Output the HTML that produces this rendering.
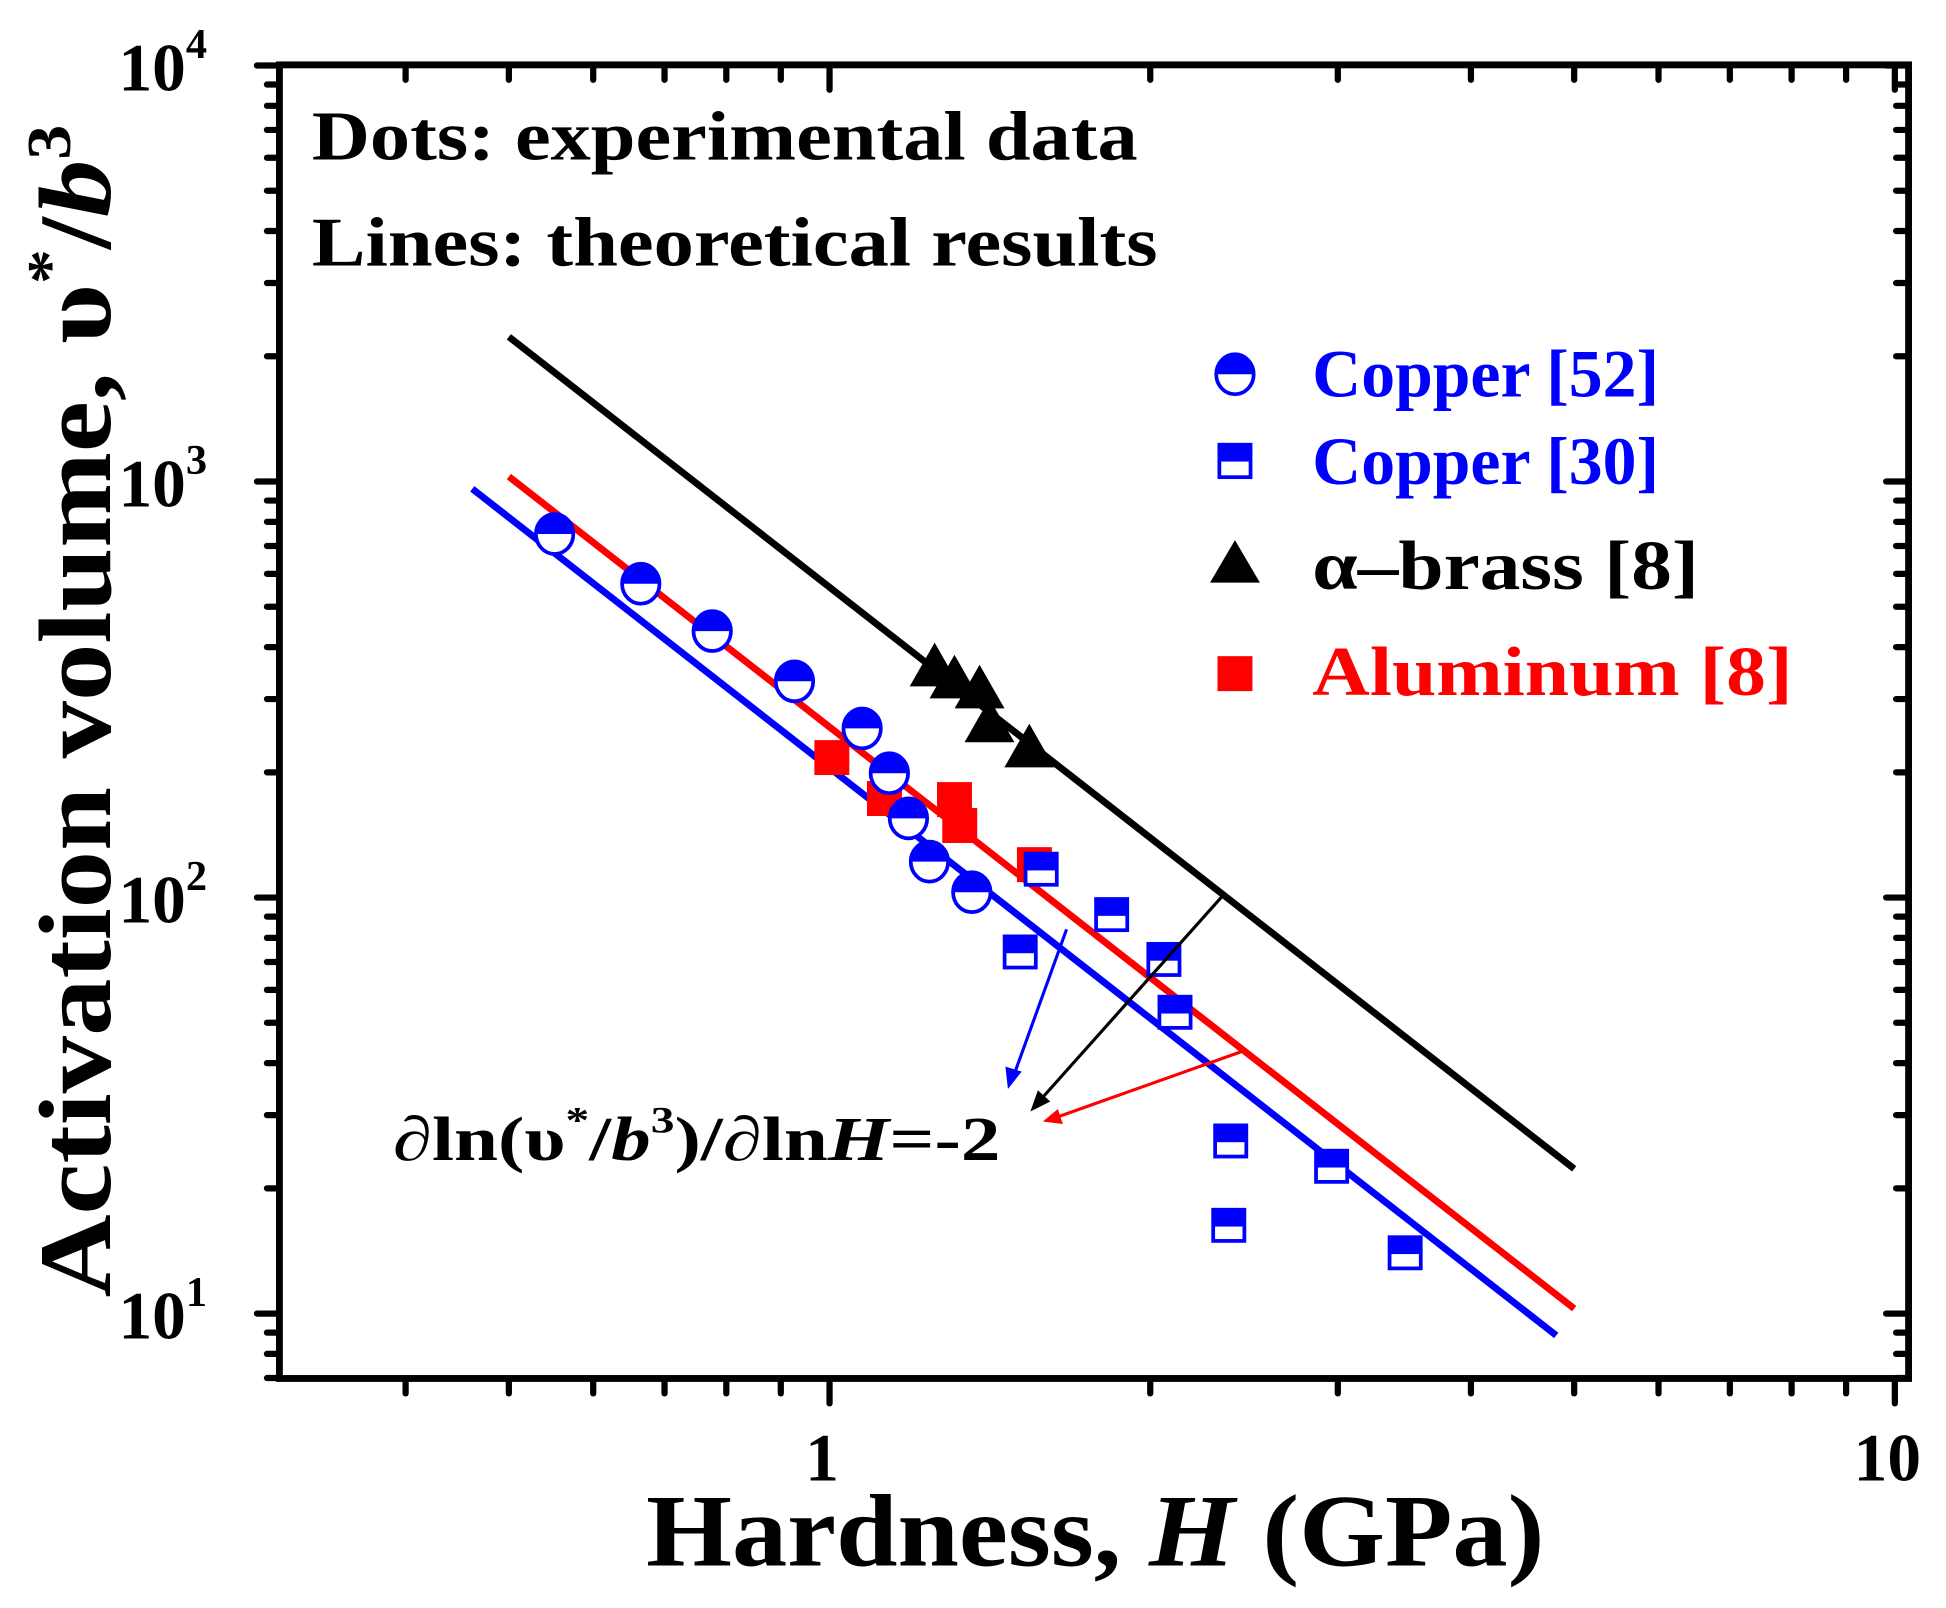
<!DOCTYPE html>
<html><head><meta charset="utf-8"><style>
html,body{margin:0;padding:0;background:#fff;}
svg{display:block;font-family:"Liberation Serif",serif;}
</style></head><body>
<svg id="chart" width="1946" height="1608" viewBox="0 0 1560 1289" preserveAspectRatio="none" xmlns="http://www.w3.org/2000/svg">
<g id="axes"></g>
<g id="lines"></g>
<g id="marks"></g>
<g>
<line x1="855" y1="745" x2="812" y2="864" stroke="#0000ff" stroke-width="2.5"/>
<polygon points="808,873 806,855 819,859" fill="#0000ff"/>
<line x1="982" y1="716" x2="832" y2="884" stroke="#000" stroke-width="2.5"/>
<polygon points="826,891 832,874 842,883" fill="#000"/>
<line x1="998" y1="842" x2="846" y2="896" stroke="#ff0000" stroke-width="2.5"/>
<polygon points="836,899 848,889 852,901" fill="#ff0000"/>
<text x="315" y="930" font-size="50" font-weight="bold" textLength="487" lengthAdjust="spacingAndGlyphs">∂ln(υ<tspan font-size="30" dy="-22">*</tspan><tspan dy="22">/</tspan><tspan font-style="italic">b</tspan><tspan font-size="30" dy="-22">3</tspan><tspan dy="22">)/∂ln</tspan><tspan font-style="italic">H</tspan>=-2</text>
</g>
<text x="250" y="128" font-size="56" font-weight="bold" textLength="662" lengthAdjust="spacingAndGlyphs">Dots: experimental data</text>
<text x="250" y="213" font-size="56" font-weight="bold" textLength="678" lengthAdjust="spacingAndGlyphs">Lines: theoretical results</text>
<g>
<g>
<path d="M975,300 A15,16 0 0 1 1005,300 Z" fill="#0000ff"/><ellipse cx="990" cy="300" rx="15" ry="16" fill="none" stroke="#0000ff" stroke-width="3"/>
<text x="1052" y="318" font-size="54" font-weight="bold" fill="#0000ff" textLength="278" lengthAdjust="spacingAndGlyphs">Copper [52]</text></g>
<g>
<rect x="977" y="356" width="26" height="14" fill="#0000ff"/><rect x="977.5" y="356.5" width="25" height="26" fill="none" stroke="#0000ff" stroke-width="3"/>
<text x="1052" y="388" font-size="54" font-weight="bold" fill="#0000ff" textLength="278" lengthAdjust="spacingAndGlyphs">Copper [30]</text></g>
<g>
<polygon points="990,433 1010,467 970,467" fill="#000"/>
<text x="1052" y="472" font-size="56" font-weight="bold" textLength="310" lengthAdjust="spacingAndGlyphs">α–brass [8]</text></g>
<g>
<rect x="976" y="526" width="28" height="28" fill="#ff0000"/>
<text x="1052" y="557" font-size="56" font-weight="bold" fill="#ff0000" textLength="385" lengthAdjust="spacingAndGlyphs">Aluminum [8]</text></g>
</g>
<text x="878" y="1255" font-size="82" font-weight="bold" text-anchor="middle" textLength="720" lengthAdjust="spacingAndGlyphs">Hardness, <tspan font-style="italic">H</tspan> (GPa)</text>
<text transform="translate(88,570) rotate(-90)" font-size="82" font-weight="bold" text-anchor="middle" textLength="940" lengthAdjust="spacingAndGlyphs">Activation volume, υ<tspan font-size="50" dy="-32">*</tspan><tspan dy="32">/</tspan><tspan font-style="italic">b</tspan><tspan font-size="50" dy="-32">3</tspan></text>
</svg>
<script>
const cu52H=[0.552,0.665,0.776,0.927,1.073,1.138,1.186,1.241,1.36];
const cu52V=[748,568,437,331,255,199,155,122,103];
const cu30H=[1.58,1.84,2.06,2.11,1.51,2.38,2.37,2.96,3.47];
const cu30V=[117,91,71,53,74,26,16.3,22.6,14.0];
const brassH=[1.255,1.31,1.383,1.413,1.54];
const brassV=[357,334,316,262,228];
const alH=[1.005,1.126,1.31,1.325,1.557];
const alV=[217,173,172,149,120];
const lineNames=['black-theory-line','red-theory-line','blue-theory-line'];
const lineCoef=[557,257,205];
const lineH0=[0.5,0.5,0.462];
const lineH1=[5,5,4.81];
const lineColors=['#000000','#ff0000','#0000ff'];
const xMajor=[1,10];
const xMinor=[0.3,0.4,0.5,0.6,0.7,0.8,0.9,2,3,4,5,6,7,8,9];
const yMajorExp=[1,2,3,4];

const NS='http://www.w3.org/2000/svg';
const L=224,R=1530,T=52,B=1105;
function X(h){return 665+854*Math.log10(h);}
function Y(v){return 1053-333.5*(Math.log10(v)-1);}
function mk(tag,attrs,parent){const e=document.createElementNS(NS,tag);for(const k in attrs)e.setAttribute(k,attrs[k]);parent.appendChild(e);return e;}
const axes=document.getElementById('axes');
const frame=mk('rect',{x:L,y:T,width:R-L,height:B-T,fill:'none',stroke:'#000','stroke-width':5.5},axes);


function tick(x1,y1,x2,y2){const t=mk('line',{x1:x1,y1:y1,x2:x2,y2:y2,stroke:'#000','stroke-width':5,'stroke-linecap':'round'},axes);
 
 }
xMajor.forEach(h=>{const x=X(h);tick(x,B,x,B+20);tick(x,T,x,T+20);
 const t=mk('text',{x:x-6,y:1187,'font-size':54,'font-weight':'bold','text-anchor':'middle'},axes);t.textContent=h;
 
 });
xMinor.forEach(h=>{const x=X(h);if(x<L-1||x>R+1)return;tick(x,B,x,B+12);tick(x,T,x,T+12);});
yMajorExp.forEach(e=>{const y=Y(Math.pow(10,e));tick(L,y,L-18,y);tick(R,y,R-18,y);
 const t=mk('text',{x:166,y:y+20,'font-size':54,'font-weight':'bold','text-anchor':'end'},axes);
 
 
 t.textContent='10';const s=mk('tspan',{'font-size':34,dy:-26},t);s.textContent=e;
 for(let m=2;m<=9;m++){const yy=Y(m*Math.pow(10,e-1));if(yy>=T&&yy<=B){tick(L,yy,L-10,yy);tick(R,yy,R-10,yy);}}
});
const lg=document.getElementById('lines');
lineCoef.forEach((c,i)=>{const l=mk('line',{x1:X(lineH0[i]),y1:Y(c/lineH0[i]**2),x2:X(lineH1[i]),y2:Y(c/lineH1[i]**2),stroke:lineColors[i],'stroke-width':5.5},lg);
 
 });
const mg=document.getElementById('marks');
brassH.forEach((h,i)=>{const x=X(h),y=Y(brassV[i]);const p=mk('polygon',{points:`${x},${y-20} ${x+20},${y+15} ${x-20},${y+15}`,fill:'#000'},mg);
 
 });
alH.forEach((h,i)=>{const x=X(h),y=Y(alV[i]);const r=mk('rect',{x:x-14,y:y-14,width:28,height:28,fill:'#ff0000'},mg);
 
 });
cu52H.forEach((h,i)=>{const x=X(h),y=Y(cu52V[i]);const g=mk('g',{},mg);
 
 
 mk('ellipse',{cx:x,cy:y,rx:15,ry:16,fill:'#fff'},g);
 mk('path',{d:`M${x-15},${y} A15,16 0 0 1 ${x+15},${y} Z`,fill:'#0000ff'},g);
 mk('ellipse',{cx:x,cy:y,rx:15,ry:16,fill:'none',stroke:'#0000ff','stroke-width':3},g);});
cu30H.forEach((h,i)=>{const x=X(h),y=Y(cu30V[i]);const g=mk('g',{},mg);
 
 
 mk('rect',{x:x-13,y:y-13,width:26,height:26,fill:'#fff'},g);
 mk('rect',{x:x-13,y:y-13,width:26,height:14,fill:'#0000ff'},g);
 mk('rect',{x:x-12.5,y:y-12.5,width:25,height:25,fill:'none',stroke:'#0000ff','stroke-width':3},g);});
</script>
</body></html>
